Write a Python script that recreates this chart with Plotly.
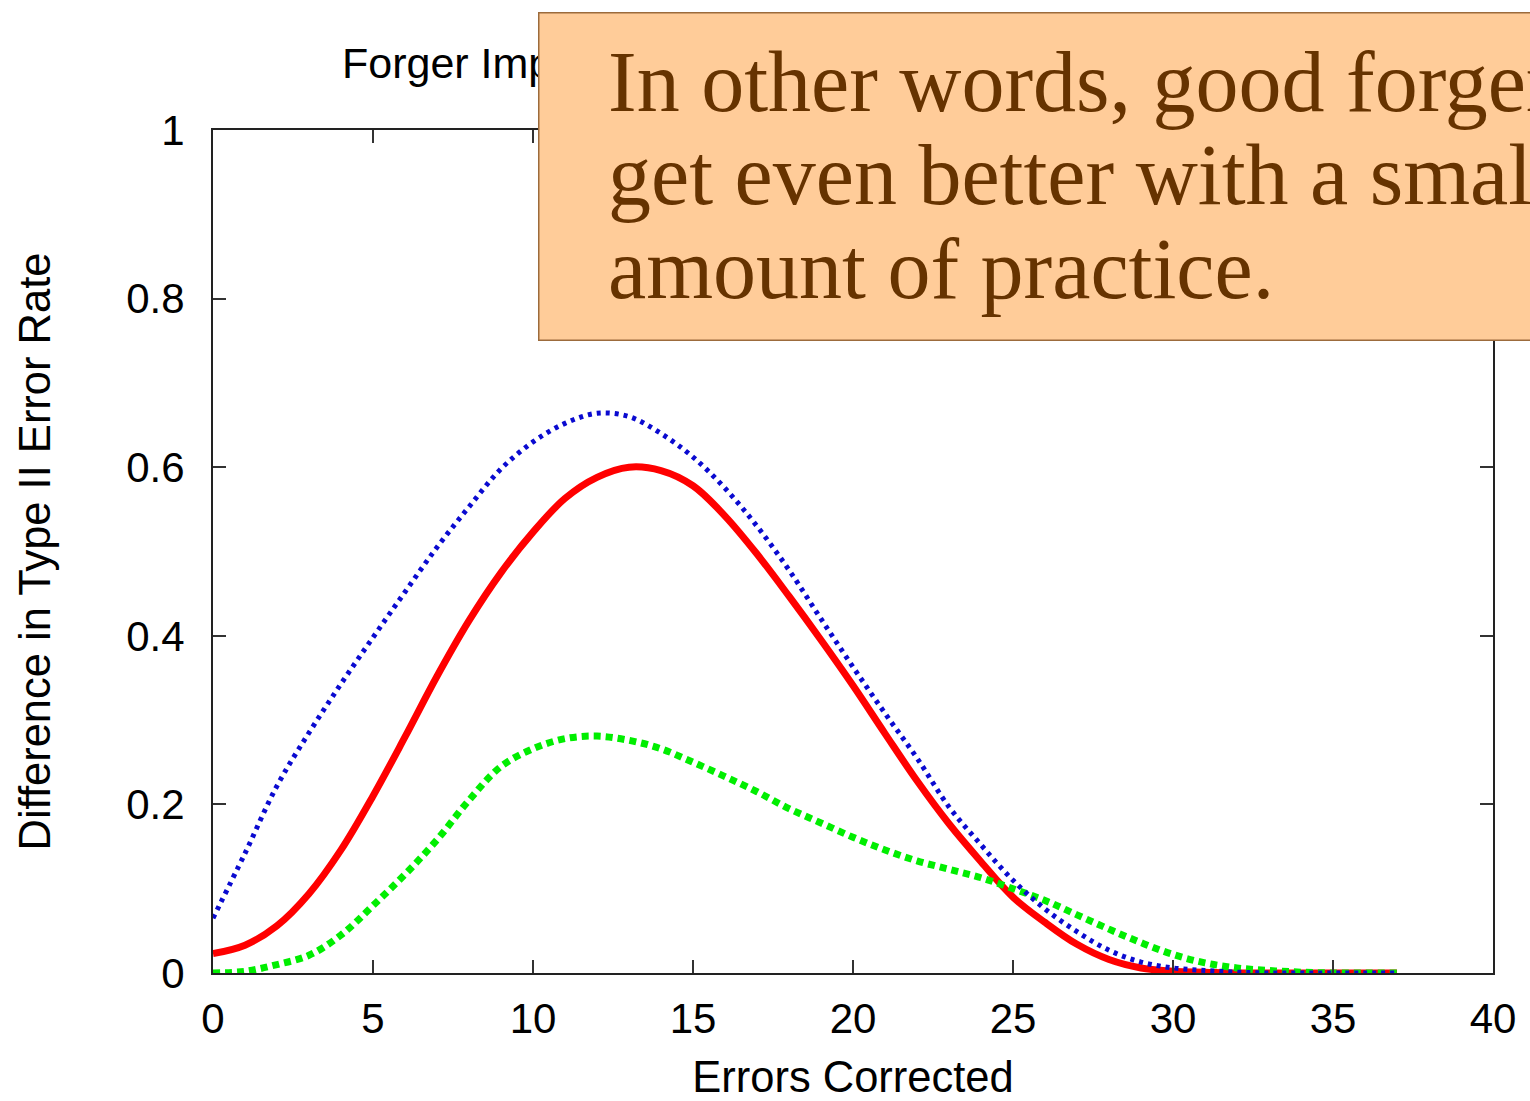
import plotly.graph_objects as go

# Errors corrected (x) and the difference in Type II error rate for each forger group
errors_corrected = list(range(0, 38))

diff_red = [0.023, 0.033, 0.056, 0.094, 0.146, 0.210, 0.280, 0.352, 0.418, 0.475,
            0.523, 0.563, 0.588, 0.600, 0.596, 0.578, 0.542, 0.497, 0.447, 0.395,
            0.341, 0.284, 0.228, 0.177, 0.132, 0.090, 0.060, 0.034, 0.016, 0.006,
            0.002, 0.001, 0.0, 0.0, 0.0, 0.0, 0.0, 0.0]

diff_blue = [0.065, 0.142, 0.222, 0.285, 0.343, 0.398, 0.452, 0.505, 0.553, 0.598,
             0.630, 0.652, 0.664, 0.660, 0.640, 0.612, 0.575, 0.530, 0.478, 0.420,
             0.363, 0.308, 0.255, 0.197, 0.152, 0.110, 0.076, 0.049, 0.027, 0.013,
             0.006, 0.003, 0.001, 0.0, 0.0, 0.0, 0.0, 0.0]

diff_green = [0.000, 0.002, 0.010, 0.021, 0.045, 0.080, 0.117, 0.158, 0.205, 0.245,
              0.266, 0.278, 0.281, 0.276, 0.266, 0.250, 0.233, 0.215, 0.195, 0.178,
              0.161, 0.146, 0.133, 0.123, 0.113, 0.100, 0.086, 0.069, 0.052, 0.036,
              0.022, 0.012, 0.006, 0.003, 0.001, 0.0, 0.0, 0.0]

x_ticks = [0, 5, 10, 15, 20, 25, 30, 35, 40]
y_ticks = [0, 0.2, 0.4, 0.6, 0.8, 1]

chart_title = "Forger Improvement"
callout_lines = [
    "In other words, good forgers",
    "get even better with a small",
    "amount of practice.",
]

W, H = 1530, 1101
ML, MR, MT, MB = 213, 37, 130, 128
PW, PH = W - ML - MR, H - MT - MB


def px_x(px):
    return (px - ML) / PW


def px_y(py):
    return (H - MB - py) / PH


SANS = "Liberation Sans, Arial, Helvetica, sans-serif"
SERIF = "Liberation Serif, Times New Roman, serif"

fig = go.Figure()
fig.add_trace(go.Scatter(
    x=errors_corrected, y=diff_red, mode="lines",
    line=dict(color="#FF0000", width=7, shape="spline", smoothing=1.0),
    showlegend=False))
fig.add_trace(go.Scatter(
    x=errors_corrected, y=diff_green, mode="lines",
    line=dict(color="#00EE00", width=7, dash="7px,5px", shape="spline", smoothing=1.0),
    showlegend=False))
fig.add_trace(go.Scatter(
    x=errors_corrected, y=diff_blue, mode="lines",
    line=dict(color="#0A0AD0", width=5, dash="4px,5px", shape="spline", smoothing=1.0),
    showlegend=False))

axis_common = dict(
    showgrid=False, zeroline=False, showline=True, linecolor="#222222", linewidth=2,
    mirror="ticks", ticks="inside", ticklen=13, tickwidth=1.5, tickcolor="#333333",
    tickfont=dict(family=SANS, size=42, color="#000000"), automargin=False,
)

fig.update_xaxes(
    range=[0, 40], tickvals=x_ticks, ticktext=[str(v) for v in x_ticks],
    title=dict(text="Errors Corrected", font=dict(family=SANS, size=43.5, color="#000000"),
               standoff=25),
    ticklabelstandoff=8,
    **axis_common)
fig.update_yaxes(
    range=[0, 1], tickvals=y_ticks, ticktext=["0", "0.2", "0.4", "0.6", "0.8", "1"],
    title=dict(text="Difference in Type II Error Rate",
               font=dict(family=SANS, size=43.5, color="#000000"), standoff=62),
    ticklabelstandoff=18,
    **axis_common)

annotations = [
    # chart title (mostly hidden under the callout box)
    dict(text=chart_title, xref="paper", yref="paper", x=px_x(340), y=px_y(37),
         xanchor="left", yanchor="top", showarrow=False,
         font=dict(family=SANS, size=43, color="#000000")),
    # callout box
    dict(text=" ", xref="paper", yref="paper", x=px_x(538), y=px_y(12),
         xanchor="left", yanchor="top", showarrow=False, width=1200, height=326,
         bgcolor="#FFCC99", bordercolor="#9C6B3C", borderwidth=1.5, borderpad=0,
         font=dict(size=10)),
]
baselines = [110, 203, 297]
for line, base in zip(callout_lines, baselines):
    annotations.append(dict(
        text=line, xref="paper", yref="paper", x=px_x(606), y=px_y(base - 78),
        xanchor="left", yanchor="top", showarrow=False, align="left",
        font=dict(family=SERIF, size=86, color="#663300")))

fig.update_layout(
    width=W, height=H,
    margin=dict(l=ML, r=MR, t=MT, b=MB, pad=0, autoexpand=False),
    paper_bgcolor="white", plot_bgcolor="white",
    annotations=annotations,
)

fig.write_html("out.html")
